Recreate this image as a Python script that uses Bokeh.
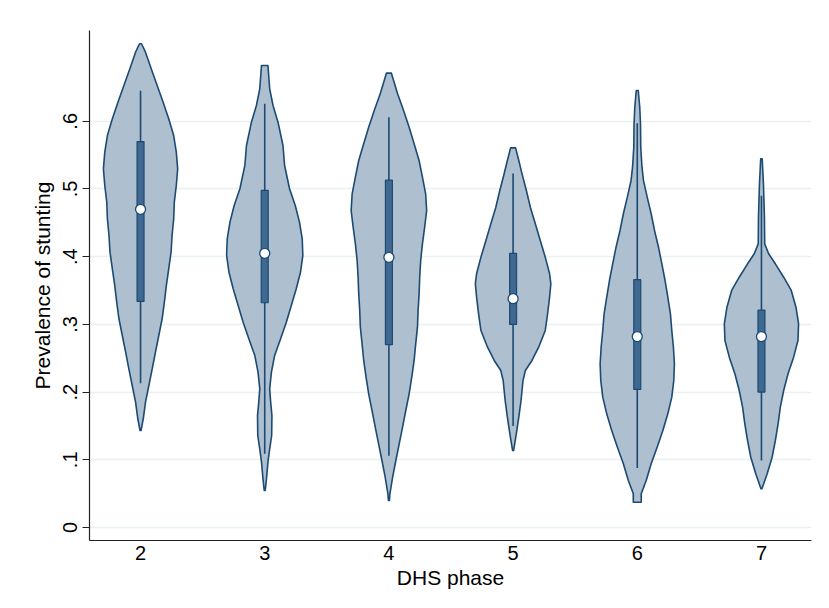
from bokeh.plotting import figure
from bokeh.models import FixedTicker, Range1d, ColumnDataSource
from bokeh.embed import file_html
from bokeh.resources import INLINE

# ---- data ----
phases = [2, 3, 4, 5, 6, 7]
y_ticks = [0, 0.1, 0.2, 0.3, 0.4, 0.5, 0.6]
y_tick_labels = ["0", ".1", ".2", ".3", ".4", ".5", ".6"]

# violin profiles: prevalence levels (top -> bottom) and density half-widths (category units)
v2 = [0.7145, 0.7021, 0.6775, 0.6529, 0.6282, 0.6037, 0.5790, 0.5544, 0.5298, 0.5052, 0.4805, 0.4560,
      0.4313, 0.4067, 0.3821, 0.3575, 0.3328, 0.3083, 0.2836, 0.2589, 0.2344, 0.2097, 0.1851, 0.1606, 0.1433]
w2 = [0.008, 0.040, 0.086, 0.134, 0.182, 0.227, 0.267, 0.288, 0.299, 0.288, 0.272, 0.267,
      0.254, 0.246, 0.227, 0.208, 0.192, 0.174, 0.147, 0.120, 0.094, 0.067, 0.040, 0.022, 0.004]
v3 = [0.6824, 0.6480, 0.6233, 0.5987, 0.5643, 0.5347, 0.5003, 0.4756, 0.4510, 0.4264, 0.4018, 0.3771, 0.3526,
      0.3279, 0.3033, 0.2787, 0.2541, 0.2294, 0.2048, 0.1851, 0.1654, 0.1359, 0.1162, 0.0965, 0.0719, 0.0547]
w3 = [0.026, 0.040, 0.067, 0.107, 0.147, 0.160, 0.200, 0.246, 0.280, 0.302, 0.307, 0.288, 0.254,
      0.214, 0.174, 0.128, 0.080, 0.054, 0.040, 0.048, 0.058, 0.056, 0.040, 0.026, 0.014, 0.004]
v4 = [0.6711, 0.6406, 0.6160, 0.5913, 0.5667, 0.5421, 0.5175, 0.4929, 0.4682, 0.4436, 0.4190, 0.3944, 0.3697, 0.3451,
      0.3205, 0.2959, 0.2713, 0.2467, 0.2220, 0.1974, 0.1728, 0.1482, 0.1236, 0.0990, 0.0743, 0.0498, 0.0399]
w4 = [0.020, 0.070, 0.118, 0.163, 0.203, 0.243, 0.270, 0.296, 0.304, 0.288, 0.270, 0.256, 0.248, 0.243,
      0.235, 0.230, 0.216, 0.203, 0.184, 0.163, 0.136, 0.110, 0.083, 0.056, 0.030, 0.008, 0.004]
v5 = [0.5608, 0.5421, 0.5224, 0.4978, 0.4731, 0.4486, 0.4239, 0.3993, 0.3747, 0.3600, 0.3402,
      0.3157, 0.2910, 0.2663, 0.2467, 0.2319, 0.2171, 0.1876, 0.1629, 0.1384, 0.1137]
w5 = [0.020, 0.046, 0.072, 0.107, 0.139, 0.179, 0.219, 0.259, 0.294, 0.304, 0.294,
      0.278, 0.259, 0.206, 0.152, 0.099, 0.080, 0.064, 0.046, 0.026, 0.004]
v6 = [0.6455, 0.6208, 0.5963, 0.5617, 0.5322, 0.5126, 0.4879, 0.4634, 0.4387, 0.4140, 0.3895, 0.3648, 0.3402,
      0.3157, 0.2910, 0.2663, 0.2418, 0.2171, 0.1925, 0.1679, 0.1433, 0.1186, 0.0941, 0.0694, 0.0498, 0.0374]
w6 = [0.008, 0.020, 0.026, 0.028, 0.038, 0.050, 0.080, 0.112, 0.139, 0.171, 0.198, 0.224, 0.246,
      0.267, 0.278, 0.291, 0.299, 0.294, 0.278, 0.246, 0.206, 0.160, 0.112, 0.072, 0.032, 0.032]
v7 = [0.5446, 0.5077, 0.4583, 0.4190, 0.4043, 0.3895, 0.3697, 0.3501, 0.3254, 0.3009,
      0.2762, 0.2516, 0.2270, 0.2024, 0.1777, 0.1532, 0.1285, 0.1038, 0.0793, 0.0572]
w7 = [0.006, 0.016, 0.024, 0.026, 0.058, 0.112, 0.179, 0.240, 0.278, 0.299,
      0.294, 0.259, 0.214, 0.179, 0.152, 0.134, 0.112, 0.086, 0.046, 0.004]

q1 = [0.334, 0.332, 0.270, 0.300, 0.204, 0.200]
q3 = [0.570, 0.498, 0.513, 0.405, 0.366, 0.321]
median = [0.470, 0.405, 0.399, 0.338, 0.282, 0.282]
whisk_lo = [0.213, 0.109, 0.106, 0.150, 0.088, 0.099]
whisk_hi = [0.645, 0.626, 0.606, 0.523, 0.597, 0.490]

profiles = [(v2, w2), (v3, w3), (v4, w4), (v5, w5), (v6, w6), (v7, w7)]

FONT = "Liberation Sans"
VIOLIN_FILL = "#aebfcf"
DARK = "#1c4a72"
BOX_FILL = "#3f6990"

p = figure(width=821, height=598, output_backend="svg", toolbar_location=None,
           x_range=Range1d(1.589, 7.403), y_range=Range1d(-0.0192, 0.7341),
           min_border_left=89, min_border_right=10, min_border_top=30, min_border_bottom=58)
p.outline_line_color = None
p.background_fill_color = "white"
p.border_fill_color = "white"

# violins
xs, ys = [], []
for ph, (vv, ww) in zip(phases, profiles):
    xs.append([ph + w for w in ww] + [ph - w for w in reversed(ww)])
    ys.append(list(vv) + list(reversed(vv)))
p.patches(xs, ys, fill_color=VIOLIN_FILL, line_color=DARK, line_width=1.6, line_join="round")

src = ColumnDataSource(dict(x=phases, q1=q1, q3=q3, med=median, lo=whisk_lo, hi=whisk_hi))
p.segment(x0="x", y0="lo", x1="x", y1="hi", source=src, line_color=DARK, line_width=1.6)
p.vbar(x="x", width=0.056, bottom="q1", top="q3", source=src,
       fill_color=BOX_FILL, line_color=DARK, line_width=1.2)
p.scatter(x="x", y="med", source=src, size=10, fill_color="white", line_color=DARK, line_width=1.3)

# axes
p.xgrid.visible = False
p.ygrid.ticker = FixedTicker(ticks=y_ticks)
p.ygrid.grid_line_color = "#e9f1f3"
p.ygrid.grid_line_width = 1.6

p.xaxis.ticker = FixedTicker(ticks=phases)
p.xaxis.major_tick_out = 0
p.xaxis.major_tick_in = 0
p.xaxis.minor_tick_line_color = None
p.xaxis.axis_label = "DHS phase"
p.xaxis.major_label_standoff = 5

p.yaxis.ticker = FixedTicker(ticks=y_ticks)
p.yaxis.major_label_overrides = {t: l for t, l in zip(y_ticks, y_tick_labels)}
p.yaxis.major_label_orientation = "vertical"
p.yaxis.major_tick_out = 7
p.yaxis.major_tick_in = 0
p.yaxis.minor_tick_line_color = None
p.yaxis.axis_label = "Prevalence of stunting"
p.yaxis.major_label_standoff = 5

for ax in (p.xaxis, p.yaxis):
    ax.axis_line_color = "#222222"
    ax.axis_line_width = 1.2
    ax.major_tick_line_color = "#222222"
    ax.major_tick_line_width = 1.2
    ax.major_label_text_font = FONT
    ax.major_label_text_font_size = "20px"
    ax.major_label_text_color = "black"
    ax.axis_label_text_font = FONT
    ax.axis_label_text_font_size = "21px"
    ax.axis_label_text_font_style = "normal"
    ax.axis_label_text_color = "black"
p.xaxis.axis_label_standoff = 3
p.yaxis.axis_label_standoff = 7

open("out.html", "w").write(file_html(p, INLINE))
